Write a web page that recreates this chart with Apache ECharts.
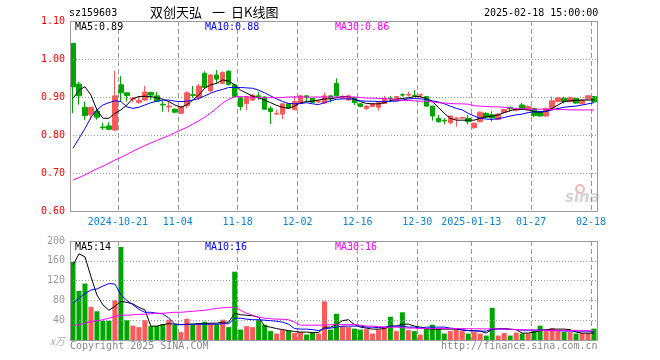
<!DOCTYPE html>
<html><head><meta charset="utf-8">
<script src="https://cdn.jsdelivr.net/npm/echarts/dist/echarts.min.js"></script>
<style>html,body{margin:0;padding:0;background:#fff}#c{width:660px;height:360px}</style>
</head><body><div id="c"></div>
<script>
const dates = [
'2024-10-09','2024-10-10','2024-10-11','2024-10-14','2024-10-15','2024-10-16','2024-10-17','2024-10-18','2024-10-21','2024-10-22',
'2024-10-23','2024-10-24','2024-10-25','2024-10-28','2024-10-29','2024-10-30','2024-10-31','2024-11-01','2024-11-04','2024-11-05',
'2024-11-06','2024-11-07','2024-11-08','2024-11-11','2024-11-12','2024-11-13','2024-11-14','2024-11-15','2024-11-18','2024-11-19',
'2024-11-20','2024-11-21','2024-11-22','2024-11-25','2024-11-26','2024-11-27','2024-11-28','2024-11-29','2024-12-02','2024-12-03',
'2024-12-04','2024-12-05','2024-12-06','2024-12-09','2024-12-10','2024-12-11','2024-12-12','2024-12-13','2024-12-16','2024-12-17',
'2024-12-18','2024-12-19','2024-12-20','2024-12-23','2024-12-24','2024-12-25','2024-12-26','2024-12-27','2024-12-30','2024-12-31',
'2025-01-02','2025-01-03','2025-01-06','2025-01-07','2025-01-08','2025-01-09','2025-01-10','2025-01-13','2025-01-14','2025-01-15',
'2025-01-16','2025-01-17','2025-01-20','2025-01-21','2025-01-22','2025-01-23','2025-01-24','2025-01-27','2025-02-05','2025-02-06',
'2025-02-07','2025-02-10','2025-02-11','2025-02-12','2025-02-13','2025-02-14','2025-02-17','2025-02-18'];
const opens = [
1.041,0.934,0.873,0.853,0.863,0.821,0.824,0.813,0.932,0.911,
0.894,0.886,0.892,0.912,0.903,0.881,0.874,0.868,0.857,0.877,
0.906,0.898,0.962,0.916,0.958,0.936,0.968,0.932,0.898,0.883,
0.892,0.903,0.900,0.870,0.855,0.855,0.882,0.867,0.883,0.903,
0.896,0.887,0.884,0.903,0.936,0.897,0.892,0.898,0.882,0.870,
0.875,0.873,0.883,0.897,0.890,0.906,0.905,0.904,0.905,0.901,
0.876,0.844,0.839,0.832,0.843,0.844,0.844,0.819,0.835,0.857,
0.853,0.841,0.859,0.873,0.865,0.879,0.866,0.870,0.861,0.850,
0.870,0.888,0.896,0.888,0.896,0.883,0.895,0.901];
const closes = [
0.927,0.903,0.851,0.873,0.847,0.819,0.815,0.903,0.911,0.904,
0.896,0.891,0.913,0.905,0.889,0.879,0.876,0.860,0.875,0.911,
0.904,0.929,0.925,0.958,0.947,0.965,0.933,0.901,0.875,0.901,
0.905,0.901,0.868,0.862,0.856,0.882,0.871,0.888,0.903,0.898,
0.886,0.889,0.903,0.897,0.903,0.901,0.903,0.885,0.875,0.876,
0.882,0.885,0.895,0.895,0.901,0.905,0.907,0.903,0.906,0.876,
0.850,0.835,0.837,0.850,0.845,0.846,0.835,0.831,0.860,0.847,
0.845,0.855,0.867,0.869,0.867,0.867,0.875,0.851,0.850,0.870,
0.890,0.898,0.888,0.899,0.884,0.892,0.903,0.887];
const lows = [
0.857,0.880,0.840,0.840,0.840,0.813,0.813,0.810,0.888,0.888,
0.886,0.882,0.890,0.893,0.888,0.861,0.860,0.857,0.856,0.870,
0.898,0.892,0.923,0.912,0.936,0.934,0.930,0.898,0.865,0.866,
0.890,0.892,0.866,0.829,0.854,0.842,0.869,0.865,0.881,0.888,
0.884,0.884,0.882,0.886,0.901,0.895,0.890,0.879,0.873,0.866,
0.873,0.864,0.882,0.886,0.889,0.901,0.901,0.901,0.896,0.874,
0.838,0.832,0.828,0.828,0.822,0.843,0.828,0.817,0.833,0.845,
0.835,0.839,0.857,0.861,0.862,0.866,0.864,0.847,0.848,0.848,
0.866,0.886,0.883,0.886,0.882,0.881,0.893,0.885];
const highs = [
1.042,0.940,0.888,0.874,0.870,0.832,0.834,0.969,0.955,0.912,
0.900,0.903,0.929,0.914,0.913,0.890,0.888,0.870,0.876,0.915,
0.929,0.934,0.968,0.960,0.971,0.967,0.970,0.934,0.900,0.903,
0.908,0.914,0.902,0.876,0.867,0.883,0.884,0.903,0.906,0.904,
0.898,0.893,0.912,0.904,0.949,0.905,0.906,0.900,0.884,0.878,
0.884,0.886,0.903,0.903,0.903,0.910,0.914,0.918,0.909,0.902,
0.877,0.853,0.844,0.851,0.847,0.847,0.853,0.833,0.862,0.860,
0.863,0.858,0.869,0.874,0.870,0.885,0.878,0.872,0.863,0.872,
0.901,0.900,0.901,0.901,0.898,0.894,0.905,0.903];
const volumes = [
158,99,114,67,58,39,39,80,188,40,
29,26,40,28,28,32,41,31,16,43,
31,34,37,33,32,41,26,138,21,28,
26,40,31,18,13,20,19,14,16,11,
16,13,78,21,53,28,26,23,21,22,
13,21,26,47,18,56,20,18,11,23,
31,23,13,18,21,18,13,16,13,9,
65,9,14,9,15,13,13,18,29,18,
24,18,16,16,13,14,14,23];
const ma5 = [
0.896,0.918,0.927,0.905,0.866,0.844,0.844,0.857,0.866,0.879,
0.896,0.901,0.902,0.901,0.898,0.894,0.888,0.879,0.873,0.879,
0.892,0.905,0.923,0.932,0.936,0.945,0.942,0.932,0.918,0.910,
0.902,0.898,0.892,0.885,0.878,0.873,0.870,0.876,0.885,0.888,
0.889,0.892,0.895,0.895,0.898,0.901,0.901,0.894,0.888,0.883,
0.882,0.882,0.885,0.890,0.894,0.896,0.898,0.901,0.901,0.896,
0.888,0.873,0.857,0.844,0.839,0.839,0.839,0.839,0.844,0.848,
0.850,0.853,0.859,0.864,0.868,0.868,0.866,0.861,0.860,0.863,
0.870,0.879,0.888,0.890,0.891,0.892,0.892,0.892];
const ma10 = [
0.765,0.791,0.817,0.846,0.866,0.879,0.885,0.890,0.888,0.874,
0.870,0.873,0.879,0.885,0.889,0.892,0.892,0.889,0.888,0.889,
0.892,0.896,0.903,0.910,0.916,0.920,0.925,0.925,0.925,0.924,
0.923,0.918,0.911,0.903,0.895,0.888,0.883,0.882,0.883,0.885,
0.882,0.880,0.885,0.890,0.894,0.895,0.895,0.894,0.890,0.889,
0.889,0.888,0.888,0.889,0.889,0.892,0.895,0.896,0.895,0.894,
0.890,0.887,0.882,0.876,0.870,0.866,0.857,0.850,0.844,0.842,
0.841,0.843,0.846,0.850,0.853,0.855,0.859,0.861,0.861,0.862,
0.866,0.870,0.873,0.875,0.876,0.879,0.882,0.885];
const ma30 = [
0.682,0.688,0.695,0.703,0.711,0.718,0.726,0.734,0.741,0.749,
0.757,0.765,0.772,0.779,0.786,0.792,0.798,0.806,0.813,0.820,
0.829,0.837,0.847,0.858,0.871,0.884,0.894,0.901,0.901,0.900,
0.899,0.898,0.898,0.898,0.898,0.899,0.900,0.900,0.900,0.900,
0.900,0.900,0.900,0.900,0.900,0.900,0.900,0.900,0.899,0.897,
0.897,0.896,0.896,0.895,0.893,0.891,0.891,0.890,0.889,0.889,
0.887,0.885,0.884,0.883,0.882,0.882,0.881,0.877,0.876,0.875,
0.874,0.874,0.873,0.871,0.870,0.869,0.868,0.868,0.868,0.868,
0.867,0.867,0.867,0.866,0.866,0.866,0.866,0.866];
const vma5 = [
151,174,168,128,91,71,60,68,78,76,
73,66,61,28,28,31,33,32,31,32,
32,33,33,34,34,36,36,54,51,50,
49,46,28,26,23,21,19,17,16,16,
15,15,26,26,31,39,41,31,26,24,
22,22,23,28,28,32,32,28,26,23,
22,22,22,22,22,20,19,19,18,14,
22,23,23,22,21,14,14,16,19,21,
22,22,22,21,16,14,14,14];
const vma10 = [
74,84,94,101,103,109,114,113,91,80,
71,62,56,56,54,53,44,32,31,31,
32,32,32,32,32,33,33,44,44,42,
41,41,40,39,38,36,32,23,22,22,
21,19,23,24,26,28,28,28,28,26,
26,25,26,28,28,28,26,26,24,26,
26,26,26,24,23,21,19,18,18,18,
22,22,22,21,21,20,20,20,20,20,
19,19,18,18,18,18,18,16.5];
const vma30 = [
29,31,34,37,39,41,44,48,50,50,
51,52,52,53,54,54,55,56,56,57,
58,59,60,62,64,65,66,66,60,54,
50,46,44,43,42,42,41,36,30,30,
30,30,30,31,31,31,31,31,30,28,
28,27,26,26,26,25,24,24,23,23.5,
23.3,23.2,23,23,23,23,22.8,22.7,22.6,22.5,
22.5,22.4,22.3,21.5,21,20.5,20.3,20,19.8,19.7,
19.6,19.5,19.4,19.2,19,18.8,18.5,18.3];
const tickDates = ['2024-10-21','2024-11-04','2024-11-18','2024-12-02','2024-12-16','2024-12-30','2025-01-13','2025-01-27','2025-02-18'];
const tickLabels = ['2024-10-21','11-04','11-18','12-02','12-16','12-30','2025-01-13','01-27','02-18'];
const priceTicks = [0.6, 1.1, 0.1];
const volTicks = [0, 200, 40];
const legendPrice = ['MA5:0.89','MA10:0.88','MA30:0.86'];
const legendVol = ['MA5:14','MA10:16','MA30:16'];

const UP = '#fc5a5a', DOWN = '#00a600';
const MONO = '"DejaVu Sans Mono", "Liberation Mono", monospace';
const tickIdx = new Set(tickDates.map(d => dates.indexOf(d)));
const labelOf = {}; tickDates.forEach((d, k) => labelOf[d] = tickLabels[k]);
const candle = opens.map((o, i) => [o, closes[i], lows[i], highs[i]]);
const volData = volumes.map((v, i) => ({value: v, itemStyle: {color: closes[i] >= opens[i] ? UP : DOWN}}));

const L = 70, W = 527, T1 = 21, H1 = 190, T2 = 241, H2 = 99;
const mkSplitX = () => ({show: true, interval: (i) => tickIdx.has(i), lineStyle: {color: '#999999', width: 1, type: [5, 3]}});
const mkSplitY = () => ({show: true, lineStyle: {color: '#999999', width: 1, type: [1, 2]}});

const chart = echarts.init(document.getElementById('c'));
const line = (data, color, xi, yi) => ({
  type: 'line', data, xAxisIndex: xi, yAxisIndex: yi, showSymbol: false, symbol: 'none',
  lineStyle: {color, width: 1}, itemStyle: {color}, silent: true, z: 5
});
const txt = (text, left, top, fill) => ({type: 'text', left, top, silent: true, z: 20,
  style: {text, fill, font: '10px ' + MONO}});
const frame = (t, h) => ({type: 'rect', silent: true, z: 10,
  shape: {x: L + 0.5, y: t + 0.5, width: W, height: h}, style: {fill: 'none', stroke: '#9a9a9a', lineWidth: 1}});

chart.setOption({
  animation: false,
  backgroundColor: '#fff',
  grid: [
    {left: L, top: T1, width: W, height: H1, show: false},
    {left: L, top: T2, width: W, height: H2, show: false}
  ],
  xAxis: [
    {type: 'category', gridIndex: 0, data: dates, boundaryGap: true, z: 4,
     axisLine: {show: false}, axisTick: {show: false}, splitLine: mkSplitX(),
     axisLabel: {interval: (i) => tickIdx.has(i), formatter: (v) => labelOf[v] || '', color: '#0a84d6',
       fontFamily: MONO, fontSize: 10, margin: 6, padding: [0, 6, 0, 0]}},
    {type: 'category', gridIndex: 1, data: dates, boundaryGap: true, z: 4,
     axisLine: {show: false}, axisTick: {show: false}, axisLabel: {show: false}, splitLine: mkSplitX()}
  ],
  yAxis: [
    {type: 'value', gridIndex: 0, min: priceTicks[0], max: priceTicks[1], interval: priceTicks[2], z: 4,
     axisLine: {show: false}, axisTick: {show: false}, splitLine: mkSplitY(),
     axisLabel: {color: '#ff0000', fontFamily: MONO, fontSize: 10, margin: 5, formatter: (v) => v.toFixed(2)}},
    {type: 'value', gridIndex: 1, min: volTicks[0], max: volTicks[1], interval: volTicks[2], z: 4,
     axisLine: {show: false}, axisTick: {show: false}, splitLine: mkSplitY(),
     axisLabel: {color: '#999', fontFamily: MONO, fontSize: 10, margin: 5, formatter: (v) => v === 0 ? '' : String(v)}}
  ],
  series: [
    {type: 'candlestick', data: candle, xAxisIndex: 0, yAxisIndex: 0, barWidth: 5,
     itemStyle: {color: UP, color0: DOWN, borderColor: UP, borderColor0: DOWN, borderWidth: 1}, z: 3},
    line(ma5, '#000000', 0, 0),
    line(ma10, '#0000ff', 0, 0),
    line(ma30, '#ff00ff', 0, 0),
    {type: 'bar', data: volData, xAxisIndex: 1, yAxisIndex: 1, barWidth: 5, z: 3},
    line(vma5, '#000000', 1, 1),
    line(vma10, '#0000ff', 1, 1),
    line(vma30, '#ff00ff', 1, 1)
  ],
  graphic: [
    frame(T1, H1),
    frame(T2, H2),
    txt('sz159603', 69, 8, '#000'),
    {type: 'text', left: 150, top: 6, silent: true, style: {text: '双创天弘', fill: '#000', font: '13px "Noto Sans CJK SC"'}},
    {type: 'text', left: 212, top: 6, silent: true, style: {text: '一', fill: '#000', font: '13px "Noto Sans CJK SC"'}},
    {type: 'text', left: 231, top: 6, silent: true, style: {text: '日K线图', fill: '#000', font: '13px "Noto Sans CJK SC"'}},
    txt('2025-02-18 15:00:00', 484, 8, '#000'),
    txt(legendPrice[0], 75, 22, '#000'),
    txt(legendPrice[1], 205, 22, '#0000ff'),
    txt(legendPrice[2], 335, 22, '#ff00ff'),
    txt(legendVol[0], 75, 242, '#000'),
    txt(legendVol[1], 205, 242, '#0000ff'),
    txt(legendVol[2], 335, 242, '#ff00ff'),
    txt('Copyright 2025 SINA.COM', 70, 341, '#888'),
    txt('http://finance.sina.com.cn', 441, 341, '#888'),
    {type: 'text', left: 50, top: 336, silent: true, style: {text: 'x万', fill: '#aaa', font: 'italic 10px "Noto Sans CJK SC"'}},
    {type: 'circle', shape: {cx: 580, cy: 189, r: 4}, silent: true, style: {fill: 'none', stroke: '#f2b8b8', lineWidth: 2}},
    {type: 'text', left: 565, top: 191, silent: true, style: {text: 'sina', fill: '#d4d4d4', font: 'italic bold 15px "DejaVu Sans"'}}
  ]
});
</script></body></html>
